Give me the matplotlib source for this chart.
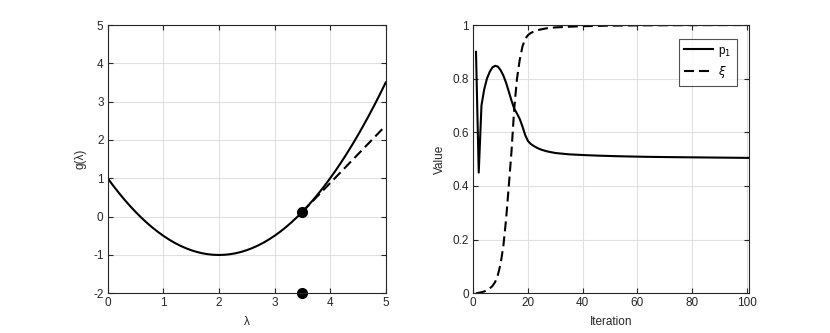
import matplotlib
matplotlib.use("Agg")
import matplotlib.pyplot as plt

# ---- Left panel data ----
lam = [0.0, 0.1, 0.2, 0.3, 0.4, 0.5, 0.6, 0.7, 0.8, 0.9,
       1.0, 1.1, 1.2, 1.3, 1.4, 1.5, 1.6, 1.7, 1.8, 1.9,
       2.0, 2.1, 2.2, 2.3, 2.4, 2.5, 2.6, 2.7, 2.8, 2.9,
       3.0, 3.1, 3.2, 3.3, 3.4, 3.5, 3.6, 3.7, 3.8, 3.9,
       4.0, 4.1, 4.2, 4.3, 4.4, 4.5, 4.6, 4.7, 4.8, 4.9, 5.0]
g_vals = [1.0, 0.805, 0.62, 0.445, 0.28, 0.125, -0.02, -0.155, -0.28, -0.395,
          -0.5, -0.595, -0.68, -0.755, -0.82, -0.875, -0.92, -0.955, -0.98, -0.995,
          -1.0, -0.995, -0.98, -0.955, -0.92, -0.875, -0.82, -0.755, -0.68, -0.595,
          -0.5, -0.395, -0.28, -0.155, -0.02, 0.125, 0.28, 0.445, 0.62, 0.805,
          1.0, 1.205, 1.42, 1.645, 1.88, 2.125, 2.38, 2.645, 2.92, 3.205, 3.5]
tangent_lam = [3.5, 5.0]
tangent_g = [0.125, 2.375]
points_lam = [3.5, 3.5]
points_g = [0.125, -2.0]

# ---- Right panel data ----
iterations = list(range(1, 102))
p1 = [0.900, 0.450, 0.700, 0.760, 0.800, 0.825, 0.842, 0.848, 0.845, 0.832,
      0.812, 0.785, 0.752, 0.718, 0.688, 0.670, 0.650, 0.622, 0.590, 0.568,
      0.557, 0.550, 0.544, 0.539, 0.535, 0.532, 0.529, 0.527, 0.525, 0.523,
      0.522, 0.521, 0.520, 0.519, 0.518, 0.5175, 0.517, 0.5165, 0.516, 0.5155,
      0.515, 0.5146, 0.5142, 0.5138, 0.5134, 0.513, 0.5127, 0.5124, 0.5121, 0.5118,
      0.5115, 0.5112, 0.511, 0.5107, 0.5105, 0.5102, 0.51, 0.5098, 0.5096, 0.5094,
      0.5092, 0.509, 0.5088, 0.5087, 0.5085, 0.5084, 0.5082, 0.5081, 0.508, 0.5078,
      0.5077, 0.5076, 0.5075, 0.5074, 0.5073, 0.5072, 0.5071, 0.507, 0.5069, 0.5068,
      0.5067, 0.5066, 0.5065, 0.5064, 0.5063, 0.5062, 0.5061, 0.506, 0.5059, 0.5058,
      0.5057, 0.5056, 0.5055, 0.5054, 0.5053, 0.5052, 0.5051, 0.505, 0.5049, 0.5048,
      0.5047]
xi = [0.000, 0.002, 0.004, 0.007, 0.011, 0.018, 0.027, 0.042, 0.068, 0.110,
      0.175, 0.275, 0.400, 0.530, 0.690, 0.800, 0.870, 0.920, 0.948, 0.962,
      0.970, 0.975, 0.979, 0.982, 0.984, 0.986, 0.988, 0.989, 0.990, 0.991,
      0.9915, 0.992, 0.9925, 0.993, 0.9935, 0.994, 0.9944, 0.9948, 0.9952, 0.9955,
      0.9958, 0.996, 0.9962, 0.9964, 0.9966, 0.9968, 0.997, 0.9972, 0.9974, 0.9976,
      0.9977, 0.9978, 0.9979, 0.998, 0.9981, 0.9982, 0.9983, 0.9984, 0.9985, 0.9986,
      0.9987, 0.9988, 0.9988, 0.9989, 0.9989, 0.999, 0.999, 0.9991, 0.9991, 0.9992,
      0.9992, 0.9992, 0.9993, 0.9993, 0.9993, 0.9994, 0.9994, 0.9994, 0.9995, 0.9995,
      0.9995, 0.9995, 0.9996, 0.9996, 0.9996, 0.9996, 0.9997, 0.9997, 0.9997, 0.9997,
      0.9997, 0.9998, 0.9998, 0.9998, 0.9998, 0.9998, 0.9998, 0.9999, 0.9999, 0.9999,
      0.9999]

left_xticks = [0, 1, 2, 3, 4, 5]
left_yticks = [-2, -1, 0, 1, 2, 3, 4, 5]
right_xticks = [0, 20, 40, 60, 80, 100]
right_yticks = [0, 0.2, 0.4, 0.6, 0.8, 1]
right_ytick_labels = ["0", "0.2", "0.4", "0.6", "0.8", "1"]

plt.rcParams['font.family'] = ['Liberation Sans', 'DejaVu Sans']
plt.rcParams['mathtext.fontset'] = 'dejavusans'

fig = plt.figure(figsize=(8.3, 3.33), dpi=100)
ax1 = fig.add_axes([0.1298, 0.1192, 0.3349, 0.8057])
ax2 = fig.add_axes([0.5702, 0.1192, 0.3325, 0.8057])

axis_color = '#262626'
dash = (0, (4.8, 2.4))
fs = 8.5


def style(ax):
    ax.grid(True, color='#e0e0e0', linewidth=0.8)
    ax.set_axisbelow(True)
    for s in ax.spines.values():
        s.set_color(axis_color)
        s.set_linewidth(0.8)
    ax.tick_params(direction='in', length=3.5, width=0.8, colors=axis_color,
                   labelsize=fs, top=True, right=True, pad=3)


# Left
ax1.plot(lam, g_vals, color='black', lw=1.5)
ax1.plot(tangent_lam, tangent_g, color='black', lw=1.5, linestyle=dash)
ax1.plot(points_lam, points_g, 'o', color='black', markersize=7, clip_on=False)
ax1.set_xlim(0, 5)
ax1.set_ylim(-2, 5)
ax1.set_xticks(left_xticks)
ax1.set_yticks(left_yticks)
ax1.set_xticklabels([str(t) for t in left_xticks])
ax1.set_yticklabels([str(t) for t in left_yticks])
ax1.set_xlabel('λ', fontsize=fs, color=axis_color, labelpad=5)
ax1.set_ylabel('g(λ)', fontsize=fs, color=axis_color, labelpad=5)
style(ax1)

# Right
ax2.plot(iterations, p1, color='black', lw=1.5, label='p$_1$')
ax2.plot(iterations, xi, color='black', lw=1.5, linestyle=dash, label=r'$\xi$')
ax2.set_xlim(0, 101)
ax2.set_ylim(0, 1)
ax2.set_xticks(right_xticks)
ax2.set_yticks(right_yticks)
ax2.set_xticklabels([str(t) for t in right_xticks])
ax2.set_yticklabels(right_ytick_labels)
ax2.set_xlabel('Iteration', fontsize=fs, color=axis_color, labelpad=5)
ax2.set_ylabel('Value', fontsize=fs, color=axis_color, labelpad=5)
style(ax2)
leg = ax2.legend(loc='upper right', bbox_to_anchor=(0.954, 0.947), fontsize=fs,
                 frameon=True, fancybox=False, edgecolor=axis_color,
                 handlelength=2.5, handletextpad=0.4, borderpad=0.45,
                 labelspacing=0.5, borderaxespad=0)
leg.get_frame().set_linewidth(0.8)

fig.savefig('out.png', dpi=100)
